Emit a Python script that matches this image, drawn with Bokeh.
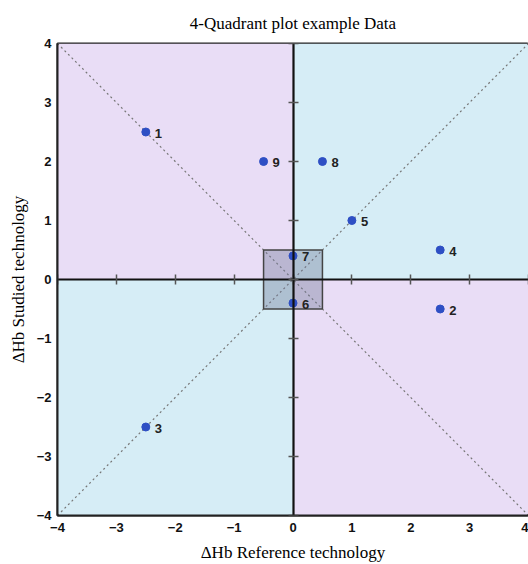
from bokeh.plotting import figure
from bokeh.models import (ColumnDataSource, LinearAxis, FixedTicker,
                          CustomJSTickFormatter, Range1d)
from bokeh.core.properties import value
from bokeh.embed import file_html
from bokeh.resources import INLINE

# Data
ids = ["1", "2", "3", "4", "5", "6", "7", "8", "9"]
ref_delta = [-2.5, 2.5, -2.5, 2.5, 1.0, 0.0, 0.0, 0.5, -0.5]
studied_delta = [2.5, -0.5, -2.5, 0.5, 1.0, -0.4, 0.4, 2.0, 2.0]
ticks = [-4, -3, -2, -1, 0, 1, 2, 3, 4]
lim = 4
tol = 0.5

p = figure(width=528, height=564, output_backend="svg", toolbar_location=None,
           x_range=Range1d(-lim, lim), y_range=Range1d(-lim, lim),
           x_axis_location=None, y_axis_location=None,
           min_border_left=57, min_border_right=0, min_border_top=0,
           min_border_bottom=47)

p.title.text = "4-Quadrant plot example Data"
p.title.align = "center"
p.title.text_font = "Liberation Serif"
p.title.text_font_style = "normal"
p.title.text_font_size = "17px"
p.title.text_color = "black"
p.title.standoff = 22
p.grid.visible = False
p.background_fill_color = "white"
p.border_fill_color = "white"
p.outline_line_color = "#222222"
p.outline_line_width = 2

# Quadrant shading
purple = "#e9ddf6"
blue = "#d6edf6"
p.quad(left=[-lim, 0], right=[0, lim], bottom=[0, -lim], top=[lim, 0],
       fill_color=purple, line_color=None)
p.quad(left=[0, -lim], right=[lim, 0], bottom=[0, -lim], top=[lim, 0],
       fill_color=blue, line_color=None)

# Diagonals
p.line([-lim, lim], [-lim, lim], line_color="#777777", line_dash="2 3", line_width=1.2)
p.line([-lim, lim], [lim, -lim], line_color="#777777", line_dash="2 3", line_width=1.2)

# Tolerance box around the origin
p.quad(left=[-tol], right=[tol], bottom=[-tol], top=[tol],
       fill_color="#6f7596", fill_alpha=0.38, line_color="#444444", line_width=1.5)

fmt = CustomJSTickFormatter(code="return tick < 0 ? '\u2212' + Math.abs(tick) : String(tick);")

# Outer axes (labels only)
xa = LinearAxis(ticker=FixedTicker(ticks=ticks), formatter=fmt,
                axis_label="\u0394Hb Reference technology")
ya = LinearAxis(ticker=FixedTicker(ticks=ticks), formatter=fmt,
                axis_label="\u0394Hb Studied technology")
for ax in (xa, ya):
    ax.major_tick_in = 0
    ax.major_tick_out = 0
    ax.minor_tick_in = 0
    ax.minor_tick_out = 0
    ax.axis_line_color = "#222222"
    ax.axis_line_width = 2
    ax.major_label_text_font = "Liberation Sans"
    ax.major_label_text_font_style = "bold"
    ax.major_label_text_font_size = "13px"
    ax.major_label_text_color = "#111111"
    ax.major_label_text_line_height = 1.0
    ax.axis_label_text_font = "Liberation Serif"
    ax.axis_label_text_font_style = "normal"
    ax.axis_label_text_font_size = "17px"
    ax.axis_label_text_color = "black"
    ax.axis_label_text_line_height = 1.0
xa.major_label_standoff = 7
xa.axis_label_standoff = 8
ya.major_label_standoff = 6
ya.axis_label_standoff = 6
p.add_layout(xa, "below")
p.add_layout(ya, "left")

# Center axes through the origin with cross ticks
cx = LinearAxis(fixed_location=0, ticker=FixedTicker(ticks=ticks))
cy = LinearAxis(fixed_location=0, ticker=FixedTicker(ticks=ticks))
for ax in (cx, cy):
    ax.major_label_text_font_size = "0px"
    ax.major_label_text_alpha = 0
    ax.major_tick_in = 5
    ax.major_tick_out = 5
    ax.minor_tick_in = 0
    ax.minor_tick_out = 0
    ax.major_tick_line_color = "#555555"
    ax.major_tick_line_width = 1.5
    ax.axis_line_color = "#111111"
    ax.axis_line_width = 2.2
p.add_layout(cx, "below")
p.add_layout(cy, "left")

src = ColumnDataSource(dict(x=ref_delta, y=studied_delta, id=ids))
p.scatter("x", "y", source=src, size=8, fill_color="#2e4fc4", line_color="#2e4fc4")
p.text("x", "y", text="id", source=src, x_offset=9, y_offset=1,
       text_font_size="13px", text_font_style="bold", text_baseline="middle",
       text_color="#222222", text_font=value("Liberation Sans"))

open("out.html", "w").write(file_html(p, INLINE))
